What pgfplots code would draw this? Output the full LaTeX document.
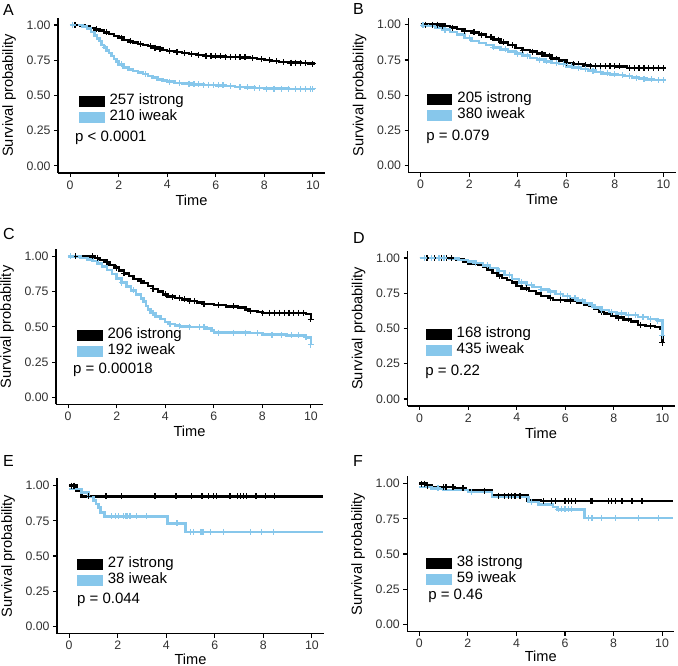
\documentclass[border=0pt]{standalone}
\usepackage{pgfplots}
\pgfplotsset{compat=1.18}
\usepackage{fontspec}
\setmainfont{Liberation Sans}
\definecolor{kmblue}{RGB}{135,199,235}
\definecolor{ticktxt}{RGB}{50,50,50}
\pgfplotsset{
  km/.style={
    scale only axis, width=267bp, height=155bp,
    xmin=-0.5, xmax=10.5, ymin=-0.05, ymax=1.05,
    axis lines=left, axis line style={-, line width=1.1bp, black},
    xtick={0,2,4,6,8,10}, xticklabels={0,2,4,6,8,10},
    ytick={0,0.25,0.5,0.75,1}, yticklabels={0.00,0.25,0.50,0.75,1.00},
    tick style={black, line width=1.1bp}, tick align=outside, major tick length=4bp,
    ticklabel style={font=\fontsize{12.3bp}{13bp}\selectfont, text=ticktxt},
    xlabel={Time}, ylabel={Survival probability},
    every axis x label/.style={at={([yshift=-27bp]axis description cs:0.5,0)}, anchor=center, font=\fontsize{14.6bp}{15bp}\selectfont},
    every axis y label/.style={at={([xshift=-49bp]axis description cs:0,0.5)}, rotate=90, anchor=center, font=\fontsize{14.6bp}{15bp}\selectfont},
    clip=false,
    legend style={draw=none, fill=none, inner sep=0pt, outer sep=0pt, anchor=north west,
      font=\fontsize{15bp}{16bp}\selectfont, row sep=0pt,
      nodes={inner sep=0pt, text height=11bp, text depth=5bp}},
    legend cell align=left,
    legend image code/.code={\fill (0bp,-4.2bp) rectangle (23bp,4.2bp);},
    /tikz/every odd column/.append style={column sep=5bp},
  },
  kmcurve/.style={const plot, line width=2.5bp},
  kmcens/.style={only marks, mark=+, mark size=3bp, mark options={line width=1.2bp}, forget plot},
}
\newcommand{\pval}[3]{\node[anchor=west, font=\fontsize{15bp}{16bp}\selectfont, inner sep=0pt] at (axis cs:#1,#2) {#3};}
\newcommand{\lett}[3]{\node[anchor=west, font=\fontsize{16bp}{17bp}\selectfont, inner sep=0pt] at (#1bp,#2bp) {#3};}
\begin{document}
\begin{tikzpicture}
\useasboundingbox (0,0) rectangle (678bp,666bp);
\lett{3}{655.5}{A}
\lett{353}{657}{B}
\lett{3}{432.5}{C}
\lett{353}{427.5}{D}
\lett{3}{205.5}{E}
\lett{353}{205}{F}
% ---------------- A
\begin{axis}[km, at={(58bp,493bp)}, anchor=south west, legend style={at={(axis cs:0.37,0.515)}}]
\addplot[kmcurve, black] coordinates {(0,1) (0.4,0.996) (0.6,0.99) (0.8,0.98) (1.0,0.97) (1.2,0.96) (1.4,0.948) (1.6,0.937) (1.8,0.922) (2.0,0.91) (2.2,0.895) (2.4,0.884) (2.6,0.875) (2.8,0.866) (3.0,0.858) (3.2,0.85) (3.4,0.84) (3.6,0.832) (3.8,0.824) (4.0,0.816) (4.3,0.808) (4.6,0.8) (4.9,0.793) (5.2,0.787) (5.5,0.782) (5.9,0.778) (6.4,0.774) (7.0,0.77) (7.4,0.765) (7.7,0.758) (8.0,0.752) (8.3,0.744) (8.6,0.737) (9.0,0.733) (9.5,0.73) (9.8,0.726) (10.05,0.722)};
\addlegendentry{257 istrong}
\addplot[kmcurve, kmblue] coordinates {(0,1) (0.5,0.99) (0.7,0.975) (0.85,0.95) (1.0,0.925) (1.1,0.905) (1.2,0.885) (1.3,0.86) (1.4,0.84) (1.5,0.82) (1.6,0.80) (1.7,0.78) (1.8,0.76) (1.9,0.74) (2.0,0.72) (2.2,0.70) (2.4,0.685) (2.6,0.673) (2.8,0.663) (3.0,0.652) (3.2,0.64) (3.4,0.628) (3.6,0.615) (3.8,0.605) (4.0,0.598) (4.3,0.59) (4.6,0.584) (5.0,0.579) (5.5,0.576) (6.0,0.572) (6.4,0.567) (6.8,0.562) (7.2,0.558) (7.6,0.553) (8.0,0.549) (9.0,0.547) (10.05,0.545)};
\addlegendentry{210 iweak}
\addplot[kmcens, black] coordinates {(0.2,1.0) (1.1,0.97) (1.5,0.948) (2.1,0.91) (2.5,0.884) (2.9,0.866) (3.3,0.85) (3.5,0.84) (3.7,0.832) (4.1,0.816) (4.4,0.808) (4.7,0.8) (5.0,0.793) (5.3,0.787) (5.6,0.782) (5.8,0.782) (6.0,0.778) (6.2,0.778) (6.4,0.774) (6.6,0.774) (6.8,0.774) (7.0,0.77) (7.2,0.77) (7.5,0.765) (7.9,0.758) (8.2,0.752) (8.5,0.744) (8.8,0.737) (9.1,0.733) (9.3,0.733) (9.5,0.73) (9.7,0.73) (10.0,0.726)};
\addplot[kmcens, kmblue] coordinates {(0.1,1.0) (1.45,0.84) (2.1,0.72) (3.1,0.652) (4.1,0.598) (4.5,0.59) (4.9,0.584) (5.1,0.579) (5.3,0.579) (5.5,0.576) (5.7,0.576) (5.9,0.576) (6.1,0.572) (6.3,0.572) (6.6,0.567) (7.0,0.562) (7.3,0.558) (7.6,0.553) (7.8,0.553) (8.1,0.549) (8.4,0.549) (8.7,0.549) (9.0,0.547) (9.3,0.547) (9.5,0.547) (9.7,0.547) (9.9,0.547) (10.0,0.547)};
\pval{0.2}{0.2}{p < 0.0001}
\end{axis}
% ---------------- B
\begin{axis}[km, at={(408.5bp,493.3bp)}, anchor=south west, legend style={at={(axis cs:0.26,0.525)}}]
\addplot[kmcurve, black] coordinates {(0,1) (0.9,0.99) (1.2,0.98) (1.5,0.97) (1.8,0.955) (2.1,0.945) (2.4,0.93) (2.7,0.912) (3.0,0.895) (3.3,0.875) (3.6,0.855) (3.9,0.835) (4.2,0.82) (4.5,0.81) (4.8,0.795) (5.1,0.78) (5.4,0.76) (5.7,0.745) (6.0,0.73) (6.3,0.72) (6.7,0.712) (7.0,0.707) (8.0,0.705) (8.5,0.693) (10.05,0.69)};
\addlegendentry{205 istrong}
\addplot[kmcurve, kmblue] coordinates {(0,0.995) (0.3,0.99) (0.6,0.98) (0.9,0.965) (1.2,0.95) (1.5,0.93) (1.8,0.905) (2.1,0.885) (2.4,0.87) (2.7,0.855) (3.0,0.84) (3.3,0.825) (3.6,0.81) (3.9,0.795) (4.2,0.78) (4.5,0.765) (4.8,0.752) (5.1,0.74) (5.4,0.73) (5.7,0.72) (6.0,0.705) (6.3,0.695) (6.6,0.685) (6.9,0.675) (7.2,0.665) (7.5,0.655) (7.8,0.648) (8.1,0.642) (8.4,0.635) (8.7,0.625) (9.0,0.617) (9.3,0.612) (9.6,0.607) (10.05,0.603)};
\addlegendentry{380 iweak}
\addplot[kmcens, black] coordinates {(0.2,1.0) (0.5,1.0) (0.7,1.0) (0.9,0.99) (1.0,0.99) (1.3,0.98) (1.8,0.955) (2.2,0.945) (2.5,0.93) (2.9,0.912) (3.2,0.895) (3.4,0.875) (3.8,0.855) (4.2,0.82) (4.6,0.81) (5.0,0.795) (5.3,0.78) (5.6,0.76) (6.0,0.73) (6.3,0.72) (6.5,0.72) (6.8,0.712) (7.0,0.707) (7.2,0.707) (7.4,0.707) (7.6,0.707) (7.8,0.707) (8.0,0.705) (8.2,0.705) (8.6,0.693) (8.8,0.693) (9.0,0.693) (9.2,0.693) (9.4,0.693) (9.6,0.693) (9.8,0.693) (10.0,0.693)};
\addplot[kmcens, kmblue] coordinates {(0.1,0.995) (1.0,0.965) (2.0,0.905) (3.0,0.84) (3.5,0.825) (4.0,0.795) (4.4,0.78) (4.9,0.752) (5.2,0.74) (5.6,0.73) (5.9,0.72) (6.2,0.705) (6.5,0.695) (6.8,0.685) (7.1,0.675) (7.4,0.665) (7.7,0.655) (8.0,0.648) (8.3,0.642) (8.6,0.635) (8.9,0.625) (9.2,0.617) (9.5,0.612) (9.8,0.607) (10.0,0.607)};
\pval{0.23}{0.207}{p = 0.079}
\end{axis}
% ---------------- C
\begin{axis}[km, at={(56bp,261.6bp)}, anchor=south west, legend style={at={(axis cs:0.37,0.495)}}]
\addplot[kmcurve, black] coordinates {(0,1) (1.1,0.99) (1.3,0.975) (1.5,0.96) (1.7,0.94) (1.9,0.92) (2.1,0.9) (2.3,0.88) (2.5,0.86) (2.7,0.84) (2.9,0.825) (3.1,0.81) (3.3,0.79) (3.5,0.77) (3.7,0.75) (3.9,0.73) (4.1,0.715) (4.4,0.705) (4.7,0.695) (5.0,0.683) (5.3,0.672) (5.6,0.663) (6.0,0.655) (6.5,0.645) (7.0,0.637) (7.3,0.625) (7.5,0.613) (7.8,0.605) (8.0,0.6) (9.8,0.59) (10.0,0.555)};
\addlegendentry{206 istrong}
\addplot[kmcurve, kmblue] coordinates {(0,1) (0.5,0.99) (0.8,0.98) (1.0,0.967) (1.2,0.95) (1.4,0.93) (1.6,0.905) (1.8,0.875) (2.0,0.845) (2.2,0.815) (2.4,0.785) (2.6,0.76) (2.8,0.73) (3.0,0.70) (3.1,0.68) (3.2,0.65) (3.3,0.625) (3.4,0.60) (3.6,0.575) (3.8,0.555) (4.0,0.535) (4.2,0.52) (4.4,0.51) (4.6,0.503) (5.0,0.5) (5.7,0.49) (5.9,0.475) (6.0,0.46) (7.5,0.455) (8.0,0.445) (9.0,0.44) (9.8,0.425) (10.0,0.375)};
\addlegendentry{192 iweak}
\addplot[kmcens, black] coordinates {(0.3,1.0) (1.0,1.0) (1.2,0.99) (1.6,0.96) (2.0,0.92) (2.3,0.88) (3.0,0.825) (3.5,0.77) (4.0,0.73) (4.3,0.715) (4.6,0.705) (4.8,0.695) (5.0,0.683) (5.2,0.683) (5.6,0.663) (6.2,0.655) (6.8,0.645) (7.5,0.613) (8.0,0.6) (8.3,0.6) (8.5,0.6) (8.7,0.6) (8.9,0.6) (9.1,0.6) (9.3,0.6) (9.5,0.6) (9.7,0.6) (10.0,0.555)};
\addplot[kmcens, kmblue] coordinates {(0.1,1.0) (2.2,0.815) (2.7,0.76) (3.5,0.60) (4.2,0.52) (4.6,0.503) (5.0,0.5) (5.4,0.5) (5.6,0.5) (6.2,0.46) (6.8,0.46) (7.3,0.46) (7.8,0.455) (8.4,0.445) (8.8,0.445) (9.2,0.44) (9.5,0.44) (9.8,0.425) (10.0,0.375)};
\pval{0.2}{0.198}{p = 0.00018}
\end{axis}
% ---------------- D
\begin{axis}[km, at={(407.5bp,260bp)}, anchor=south west, legend style={at={(axis cs:0.27,0.513)}}]
\addplot[kmcurve, black] coordinates {(0,1) (1.5,0.99) (1.8,0.975) (2.0,0.962) (2.4,0.95) (2.6,0.935) (2.8,0.915) (3.0,0.893) (3.2,0.875) (3.4,0.86) (3.6,0.845) (3.8,0.825) (4.0,0.8) (4.2,0.785) (4.5,0.765) (4.8,0.748) (5.0,0.732) (5.3,0.715) (5.5,0.704) (6.0,0.697) (6.5,0.685) (6.8,0.672) (7.0,0.66) (7.2,0.64) (7.4,0.62) (7.6,0.605) (7.9,0.59) (8.1,0.578) (8.4,0.565) (8.7,0.55) (9.0,0.525) (9.3,0.518) (9.7,0.51) (9.9,0.5) (10.0,0.40)};
\addlegendentry{168 istrong}
\addplot[kmcurve, kmblue] coordinates {(0,1) (1.2,0.995) (1.6,0.985) (2.0,0.976) (2.3,0.965) (2.6,0.948) (2.9,0.93) (3.2,0.908) (3.5,0.88) (3.8,0.853) (4.1,0.828) (4.4,0.81) (4.7,0.795) (5.0,0.777) (5.3,0.762) (5.6,0.745) (5.9,0.73) (6.2,0.715) (6.5,0.697) (6.8,0.68) (7.0,0.665) (7.2,0.65) (7.5,0.632) (7.8,0.617) (8.1,0.607) (8.5,0.597) (9.0,0.582) (9.4,0.568) (9.8,0.555) (10.0,0.45)};
\addlegendentry{435 iweak}
\addplot[kmcens, black] coordinates {(0.3,1.0) (0.6,1.0) (0.9,1.0) (1.1,1.0) (1.3,1.0) (2.3,0.962) (3.3,0.875) (4.4,0.785) (5.4,0.715) (5.8,0.704) (6.2,0.697) (7.5,0.62) (8.2,0.578) (8.6,0.565) (9.1,0.525) (9.5,0.518) (10.0,0.40)};
\addplot[kmcens, kmblue] coordinates {(0.2,1.0) (0.5,1.0) (0.8,1.0) (1.0,1.0) (2.3,0.965) (2.8,0.948) (3.3,0.908) (3.7,0.88) (4.2,0.828) (4.6,0.81) (5.0,0.777) (5.4,0.762) (5.8,0.745) (6.1,0.73) (6.4,0.715) (6.7,0.697) (7.1,0.665) (7.5,0.632) (7.9,0.617) (8.3,0.607) (8.6,0.597) (8.9,0.597) (9.2,0.582) (9.5,0.568) (9.8,0.555) (10.0,0.45)};
\pval{0.23}{0.19}{p = 0.22}
\end{axis}
% ---------------- E
\begin{axis}[km, at={(57bp,32.5bp)}, anchor=south west, legend style={at={(axis cs:0.34,0.498)}},
  every axis x label/.style={at={([yshift=-25.5bp]axis description cs:0.5,0)}, anchor=center, font=\fontsize{14.6bp}{15bp}\selectfont}]
\addplot[kmcurve, black] coordinates {(0,1) (0.3,0.96) (0.5,0.923) (10.45,0.923)};
\addlegendentry{27 istrong}
\addplot[kmcurve, kmblue] coordinates {(0,0.974) (0.5,0.95) (0.8,0.92) (1.0,0.895) (1.1,0.87) (1.2,0.845) (1.3,0.81) (1.45,0.782) (4.05,0.731) (4.8,0.672) (10.45,0.672)};
\addlegendentry{38 iweak}
\addplot[kmcens, black] coordinates {(0.1,1.0) (0.2,1.0) (0.8,0.923) (1.52,0.923) (2.17,0.923) (3.54,0.923) (4.4,0.923) (5.05,0.923) (5.47,0.923) (5.74,0.923) (5.95,0.923) (6.08,0.923) (6.63,0.923) (6.94,0.923) (7.05,0.923) (7.18,0.923) (7.3,0.923) (7.7,0.923) (8.1,0.923) (8.46,0.923)};
\addplot[kmcens, kmblue] coordinates {(1.76,0.782) (1.9,0.782) (2.04,0.782) (2.24,0.782) (2.31,0.782) (2.38,0.782) (2.51,0.782) (2.79,0.782) (3.2,0.782) (4.44,0.731) (4.99,0.672) (5.12,0.672) (5.4,0.672) (5.47,0.672) (5.53,0.672) (5.81,0.672) (6.36,0.672) (7.46,0.672) (7.94,0.672) (8.42,0.672)};
\pval{0.32}{0.19}{p = 0.044}
\end{axis}
% ---------------- F
\begin{axis}[km, at={(407.2bp,34.5bp)}, anchor=south west, legend style={at={(axis cs:0.29,0.49)}},
  every axis x label/.style={at={([yshift=-24.5bp]axis description cs:0.5,0)}, anchor=center, font=\fontsize{14.6bp}{15bp}\selectfont}]
\addplot[kmcurve, black] coordinates {(0,1) (0.3,0.985) (0.5,0.975) (1.4,0.965) (1.9,0.955) (2.7,0.95) (3.0,0.915) (4.45,0.88) (5.0,0.875) (10.45,0.875)};
\addlegendentry{38 istrong}
\addplot[kmcurve, kmblue] coordinates {(0,0.975) (0.5,0.965) (1.0,0.955) (2.0,0.94) (3.0,0.905) (4.5,0.87) (4.9,0.852) (5.5,0.835) (5.7,0.817) (6.8,0.757) (10.45,0.757)};
\addlegendentry{59 iweak}
\addplot[kmcens, black] coordinates {(0.1,1.0) (0.2,1.0) (0.35,0.985) (1.0,0.975) (1.1,0.975) (1.39,0.975) (1.8,0.965) (2.7,0.95) (3.25,0.915) (3.52,0.915) (3.66,0.915) (3.8,0.915) (3.94,0.915) (4.15,0.915) (5.11,0.875) (5.45,0.875) (5.6,0.875) (6.0,0.875) (6.14,0.875) (6.28,0.875) (6.42,0.875) (7.04,0.875) (7.11,0.875) (7.8,0.875) (7.93,0.875) (8.07,0.875) (8.35,0.875) (8.76,0.875) (9.17,0.875)};
\addplot[kmcens, kmblue] coordinates {(0.77,0.965) (2.15,0.94) (4.63,0.87) (5.73,0.817) (5.87,0.817) (6.0,0.817) (6.14,0.817) (6.28,0.817) (6.97,0.757) (7.11,0.757) (7.52,0.757) (8.07,0.757) (9.03,0.757) (9.86,0.757)};
\pval{0.36}{0.2}{p = 0.46}
\end{axis}
\end{tikzpicture}
\end{document}
